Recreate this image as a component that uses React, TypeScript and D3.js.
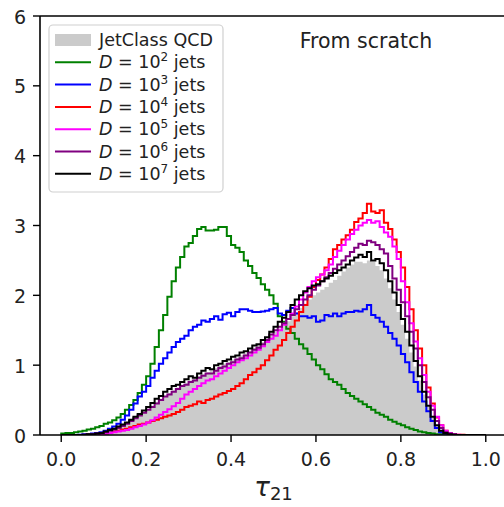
import React from "react";
import * as d3 from "d3";

const binEdges = d3.range(0, 101).map((i) => i / 100);

const qcd = [
  0, 0, 0, 0, 0, 0.005, 0.01, 0.01, 0.02, 0.03,
  0.04, 0.06, 0.08, 0.10, 0.13, 0.16, 0.20, 0.24, 0.28, 0.32,
  0.37, 0.42, 0.47, 0.52, 0.56, 0.60, 0.64, 0.68, 0.72, 0.75,
  0.78, 0.81, 0.84, 0.87, 0.90, 0.93, 0.96, 0.99, 1.02, 1.05,
  1.08, 1.11, 1.14, 1.17, 1.21, 1.25, 1.29, 1.33, 1.38, 1.43,
  1.48, 1.53, 1.58, 1.63, 1.70, 1.76, 1.82, 1.88, 1.94, 2.00,
  2.04, 2.08, 2.12, 2.18, 2.22, 2.28, 2.34, 2.40, 2.44, 2.48,
  2.48, 2.46, 2.50, 2.48, 2.42, 2.36, 2.24, 2.10, 1.94, 1.76,
  1.58, 1.38, 1.18, 0.98, 0.78, 0.58, 0.40, 0.25, 0.14, 0.07,
  0.03, 0.015, 0.005, 0.003, 0.002, 0.001, 0.001, 0, 0, 0,
];

const d2 = [
  0.02, 0.03, 0.03, 0.04, 0.05, 0.06, 0.08, 0.09, 0.11, 0.13,
  0.16, 0.18, 0.21, 0.25, 0.30, 0.36, 0.43, 0.50, 0.60, 0.72,
  0.84, 1.02, 1.26, 1.50, 1.72, 1.98, 2.20, 2.40, 2.55, 2.70,
  2.75, 2.85, 2.95, 2.98, 2.93, 2.93, 2.94, 2.98, 2.98, 2.85,
  2.72, 2.68, 2.62, 2.50, 2.42, 2.32, 2.25, 2.16, 2.08, 2.00,
  1.88, 1.70, 1.62, 1.52, 1.46, 1.38, 1.30, 1.24, 1.16, 1.08,
  1.00, 0.94, 0.87, 0.80, 0.76, 0.72, 0.66, 0.60, 0.56, 0.52,
  0.48, 0.44, 0.40, 0.36, 0.32, 0.29, 0.26, 0.22, 0.19, 0.16,
  0.14, 0.11, 0.09, 0.07, 0.05, 0.04, 0.03, 0.02, 0.01, 0.01,
  0.005, 0.003, 0.002, 0.001, 0, 0, 0, 0, 0, 0,
];

const d3jets = [
  0, 0, 0, 0, 0.005, 0.01, 0.01, 0.02, 0.03, 0.04,
  0.06, 0.09, 0.12, 0.16, 0.22, 0.28, 0.36, 0.45, 0.55, 0.62,
  0.70, 0.82, 0.92, 1.02, 1.10, 1.18, 1.26, 1.33, 1.38, 1.42,
  1.50, 1.55, 1.58, 1.64, 1.62, 1.66, 1.70, 1.65, 1.73, 1.75,
  1.70, 1.76, 1.80, 1.80, 1.78, 1.76, 1.76, 1.77, 1.78, 1.80,
  1.82, 1.74, 1.72, 1.78, 1.82, 1.74, 1.70, 1.70, 1.68, 1.70,
  1.62, 1.64, 1.72, 1.70, 1.74, 1.70, 1.74, 1.76, 1.76, 1.78,
  1.77, 1.80, 1.86, 1.72, 1.68, 1.62, 1.55, 1.46, 1.38, 1.28,
  1.16, 1.04, 0.90, 0.76, 0.62, 0.48, 0.34, 0.20, 0.10, 0.04,
  0.02, 0.01, 0.005, 0, 0, 0, 0, 0, 0, 0,
];

const d4 = [
  0, 0, 0, 0, 0, 0, 0, 0, 0.005, 0.01,
  0.02, 0.03, 0.05, 0.06, 0.08, 0.09, 0.11, 0.13, 0.15, 0.16,
  0.18, 0.20, 0.22, 0.24, 0.26, 0.28, 0.30, 0.33, 0.36, 0.40,
  0.42, 0.44, 0.48, 0.46, 0.50, 0.52, 0.55, 0.58, 0.60, 0.63,
  0.66, 0.70, 0.74, 0.80, 0.86, 0.90, 0.95, 1.00, 1.07, 1.14,
  1.22, 1.28, 1.36, 1.46, 1.55, 1.64, 1.76, 1.86, 1.98, 2.12,
  2.22, 2.30, 2.40, 2.52, 2.66, 2.72, 2.80, 2.86, 2.94, 3.05,
  3.10, 3.18, 3.31, 3.20, 3.18, 3.22, 3.04, 2.95, 2.80, 2.62,
  2.40, 2.12, 1.80, 1.50, 1.24, 1.00, 0.68, 0.45, 0.25, 0.14,
  0.06, 0.03, 0.01, 0.005, 0.002, 0, 0, 0, 0, 0,
];

const d5 = [
  0, 0, 0, 0, 0, 0, 0, 0, 0.005, 0.01,
  0.02, 0.03, 0.04, 0.05, 0.06, 0.07, 0.09, 0.11, 0.13, 0.15,
  0.18, 0.21, 0.25, 0.29, 0.33, 0.37, 0.41, 0.46, 0.52, 0.58,
  0.62, 0.66, 0.70, 0.74, 0.78, 0.80, 0.84, 0.88, 0.92, 0.96,
  1.00, 1.04, 1.07, 1.10, 1.14, 1.18, 1.22, 1.27, 1.33, 1.38,
  1.42, 1.50, 1.58, 1.66, 1.74, 1.84, 1.94, 2.04, 2.12, 2.20,
  2.26, 2.30, 2.36, 2.44, 2.55, 2.64, 2.72, 2.80, 2.88, 2.94,
  3.00, 3.04, 3.08, 3.04, 3.06, 2.98, 2.90, 2.84, 2.70, 2.52,
  2.20, 1.90, 1.60, 1.34, 1.10, 0.86, 0.62, 0.42, 0.26, 0.14,
  0.06, 0.03, 0.01, 0.005, 0, 0, 0, 0, 0, 0,
];

const d6 = [
  0, 0, 0, 0, 0, 0.005, 0.01, 0.01, 0.02, 0.03,
  0.04, 0.06, 0.08, 0.10, 0.13, 0.16, 0.20, 0.24, 0.28, 0.32,
  0.36, 0.40, 0.45, 0.50, 0.55, 0.58, 0.62, 0.66, 0.70, 0.72,
  0.76, 0.78, 0.82, 0.85, 0.88, 0.88, 0.92, 0.96, 0.98, 1.02,
  1.04, 1.08, 1.10, 1.14, 1.18, 1.22, 1.25, 1.30, 1.36, 1.44,
  1.50, 1.55, 1.60, 1.66, 1.72, 1.80, 1.86, 1.94, 2.00, 2.08,
  2.14, 2.20, 2.26, 2.32, 2.38, 2.44, 2.50, 2.56, 2.62, 2.68,
  2.74, 2.72, 2.78, 2.76, 2.72, 2.66, 2.60, 2.42, 2.24, 2.08,
  1.90, 1.70, 1.48, 1.24, 1.00, 0.76, 0.54, 0.36, 0.20, 0.10,
  0.04, 0.02, 0.01, 0, 0, 0, 0, 0, 0, 0,
];

const d7 = [
  0, 0, 0, 0, 0, 0.005, 0.01, 0.01, 0.02, 0.03,
  0.05, 0.07, 0.09, 0.12, 0.15, 0.18, 0.22, 0.26, 0.30, 0.35,
  0.40, 0.46, 0.52, 0.56, 0.62, 0.66, 0.70, 0.72, 0.76, 0.80,
  0.84, 0.82, 0.88, 0.92, 0.96, 0.94, 1.00, 1.02, 1.06, 1.08,
  1.12, 1.14, 1.18, 1.20, 1.24, 1.28, 1.30, 1.36, 1.40, 1.48,
  1.55, 1.62, 1.68, 1.76, 1.86, 1.94, 2.00, 2.06, 2.10, 2.14,
  2.16, 2.20, 2.24, 2.28, 2.32, 2.36, 2.40, 2.44, 2.50, 2.54,
  2.58, 2.55, 2.62, 2.50, 2.52, 2.46, 2.36, 2.20, 2.04, 1.86,
  1.66, 1.48, 1.28, 1.06, 0.84, 0.62, 0.42, 0.26, 0.14, 0.06,
  0.03, 0.01, 0.005, 0, 0, 0, 0, 0, 0, 0,
];

const lineSeries = [
  { exp: "2", color: "#008000", values: d2 },
  { exp: "3", color: "#0000ff", values: d3jets },
  { exp: "4", color: "#ff0000", values: d4 },
  { exp: "5", color: "#ff00ff", values: d5 },
  { exp: "6", color: "#800080", values: d6 },
  { exp: "7", color: "#000000", values: d7 },
];

const xTicks = [0, 0.2, 0.4, 0.6, 0.8, 1.0];
const yTicks = [0, 1, 2, 3, 4, 5, 6];

const W = 504;
const H = 507;
const L = 40;
const R = 507;
const T = 16;
const B = 435;

export default function App() {
  const x = d3.scaleLinear().domain([-0.05, 1.05]).range([L, R]);
  const y = d3.scaleLinear().domain([0, 6]).range([B, T]);

  const toPts = (vals: number[]) => {
    const pts: [number, number][] = [[binEdges[0], 0]];
    vals.forEach((v, i) => {
      pts.push([binEdges[i], v]);
      pts.push([binEdges[i + 1], v]);
    });
    pts.push([binEdges[binEdges.length - 1], 0]);
    return pts;
  };

  const line = d3
    .line<[number, number]>()
    .x((d) => x(d[0]))
    .y((d) => y(d[1]));

  const area = d3
    .area<[number, number]>()
    .x((d) => x(d[0]))
    .y0(y(0))
    .y1((d) => y(d[1]));

  const font = "DejaVu Sans, sans-serif";
  const legX = 49;
  const legY = 25;
  const rowH = 22.3;
  const firstRow = 40;

  return (
    <svg width={W} height={H} style={{ position: "absolute", left: 0, top: 0 }} fontFamily={font}>
      <rect x={0} y={0} width={W} height={H} fill="#fff" />
      <defs>
        <clipPath id="plotclip">
          <rect x={L} y={T} width={R - L} height={B - T} />
        </clipPath>
      </defs>
      <g clipPath="url(#plotclip)">
        <path d={area(toPts(qcd)) || ""} fill="#cbcbcb" stroke="none" />
        {lineSeries.map((s) => (
          <path
            key={s.exp}
            d={line(toPts(s.values)) || ""}
            fill="none"
            stroke={s.color}
            strokeWidth={2}
            strokeLinejoin="miter"
          />
        ))}
      </g>
      {/* spines */}
      <line x1={L} x2={L} y1={T} y2={B} stroke="#000" strokeWidth={1.6} />
      <line x1={L} x2={R} y1={B} y2={B} stroke="#000" strokeWidth={1.6} />
      <line x1={L} x2={R} y1={T} y2={T} stroke="#000" strokeWidth={1.6} />
      <line x1={R} x2={R} y1={T} y2={B} stroke="#000" strokeWidth={1.6} />
      {/* x ticks */}
      {xTicks.map((t) => (
        <g key={"x" + t}>
          <line x1={x(t)} x2={x(t)} y1={B} y2={B + 7} stroke="#000" strokeWidth={1.4} />
          <text x={x(t)} y={B + 31} textAnchor="middle" fontSize={19} fill="#222">
            {t.toFixed(1)}
          </text>
        </g>
      ))}
      {/* y ticks */}
      {yTicks.map((t) => (
        <g key={"y" + t}>
          <line x1={L - 7} x2={L} y1={y(t)} y2={y(t)} stroke="#000" strokeWidth={1.4} />
          <text x={L - 14} y={y(t) + 7.5} textAnchor="end" fontSize={19} fill="#222">
            {t}
          </text>
        </g>
      ))}
      {/* x label */}
      <text x={(L + R) / 2} y={496} textAnchor="middle" fontSize={26} fill="#222">
        <tspan fontStyle="italic">τ</tspan>
        <tspan fontSize={18} dy={4}>21</tspan>
      </text>
      {/* title */}
      <text x={366} y={48} textAnchor="middle" fontSize={20.5} fill="#222">
        From scratch
      </text>
      {/* legend */}
      <rect
        x={legX}
        y={legY}
        width={174}
        height={167}
        rx={4}
        fill="#fff"
        fillOpacity={0.85}
        stroke="#d0d0d0"
        strokeWidth={1.2}
      />
      <rect x={55} y={firstRow - 6} width={36} height={12} fill="#cbcbcb" />
      <text x={99} y={firstRow + 6} fontSize={17.5} fill="#222">
        JetClass QCD
      </text>
      {lineSeries.map((s, i) => {
        const cy = firstRow + rowH * (i + 1);
        return (
          <g key={"leg" + s.exp}>
            <line x1={55} x2={91} y1={cy} y2={cy} stroke={s.color} strokeWidth={2} />
            <text x={99} y={cy + 6} fontSize={17.5} fill="#222">
              <tspan fontStyle="italic">D</tspan>
              <tspan> = 10</tspan>
              <tspan fontSize={12} dy={-7}>{s.exp}</tspan>
              <tspan dy={7}> jets</tspan>
            </text>
          </g>
        );
      })}
    </svg>
  );
}
